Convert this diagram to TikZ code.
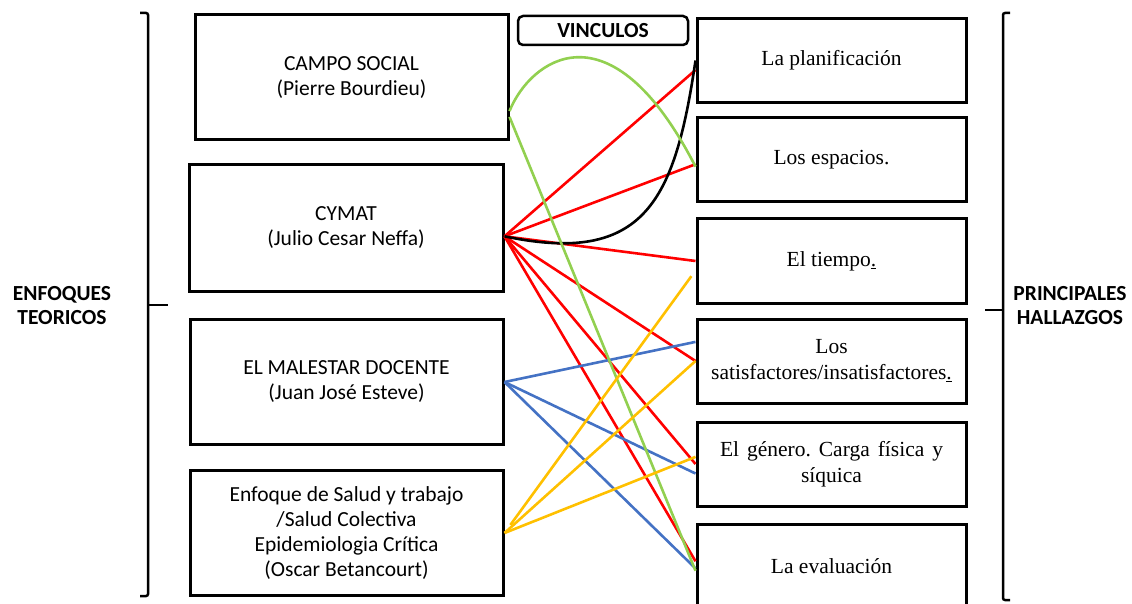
\documentclass[tikz,border=0pt]{standalone}
\usepackage{fontspec}
\setmainfont{Liberation Serif}
\newfontfamily\calibri{Carlito}
\definecolor{vred}{RGB}{255,0,0}
\definecolor{vgreen}{RGB}{146,208,80}
\definecolor{vblue}{RGB}{68,114,196}
\definecolor{vyellow}{RGB}{255,192,0}
\frenchspacing
\begin{document}
\begin{tikzpicture}[x=1pt,y=-1pt,
   enfoque/.style={draw,line width=3pt,inner sep=0pt,minimum width=313pt,minimum height=125pt,align=center,font=\calibri\fontsize{21.5}{25}\selectfont},
   hallazgo/.style={draw,line width=3pt,inner sep=0pt,minimum width=269pt,minimum height=84pt,align=center,font=\fontsize{21.5}{26}\selectfont},
   heading/.style={align=center,font=\calibri\bfseries\fontsize{21.5}{24}\selectfont},
   brace/.style={line width=2.5pt,rounded corners=2pt},
   link/.style={line width=2.6pt}]
\useasboundingbox (0,0) rectangle (1132,604);
\node[enfoque] (campo) at (351.5,77.5) {CAMPO SOCIAL\\(Pierre Bourdieu)};
\node[enfoque,minimum width=314pt,minimum height=126pt] (cymat) at (346,228) {CYMAT\\(Julio Cesar Neffa)};
\node[enfoque] (malestar) at (346.5,382) {EL MALESTAR DOCENTE\\(Juan José Esteve)};
\node[enfoque] (salud) at (346.5,533) {Enfoque de Salud y trabajo\\/Salud Colectiva\\Epidemiologia Crítica\\(Oscar Betancourt)};
\node[hallazgo] (plan) at (831.5,60.5) {La planificación};
\node[hallazgo] (espacios) at (831.5,159.5) {Los espacios.};
\node[hallazgo] (tiempo) at (831.5,261) {El tiempo\underline{.}};
\node[hallazgo] (satisf) at (831.5,361) {Los\\satisfactores/insatisfactores\underline{.}};
\node[hallazgo] (genero) at (831.5,464) {\makebox[223pt][s]{El género. Carga física y}\\síquica};
\node[hallazgo] (evalua) at (831.5,566) {La evaluación};
\node[draw,line width=2.5pt,rounded corners=5pt,inner sep=0pt,minimum width=170pt,minimum height=29pt,font=\calibri\bfseries\fontsize{21.5}{24}\selectfont] (vinculos) at (603,30.5) {VINCULOS};
\node[heading] (enfoques) at (62,306) {ENFOQUES\\TEORICOS};
\node[heading] (principales) at (1070,306) {PRINCIPALES\\HALLAZGOS};
\draw[brace] (140,13) -- (148,13) -- (148,596) -- (140,596);
\draw[brace] (148,305) -- (168,305);
\draw[brace] (1010,13) -- (1003,13) -- (1003,600) -- (1010,600);
\draw[brace] (985,310) -- (1003,310);
\draw[link,vred] (cymat.357) -- (plan.184);
\draw[link,vred] (cymat.357) -- (espacios.182);
\draw[link,vred] (cymat.357) -- (tiempo.west);
\draw[link,vred] (cymat.357) -- (satisf.west);
\draw[link,vred] (cymat.357) -- (genero.west);
\draw[link,vred] (cymat.357) -- (evalua.178);
\draw[link] (cymat.357) .. controls (645,266) and (675,200) .. (plan.180);
\draw[link,vblue] (malestar.east) -- (satisf.172);
\draw[link,vblue] (malestar.east) -- (genero.184);
\draw[link,vblue] (malestar.east) -- (evalua.181);
\draw[link,vgreen] (campo.348) .. controls (530,60) and (610,0) .. (espacios.183);
\draw[link,vgreen] (campo.346) -- (evalua.182);
\draw[link,vyellow,shorten <=10pt,shorten >=7pt] (salud.east) -- (tiempo.184);
\draw[link,vyellow] (salud.east) -- (satisf.west);
\draw[link,vyellow] (salud.east) -- (genero.177);
\end{tikzpicture}
\end{document}
